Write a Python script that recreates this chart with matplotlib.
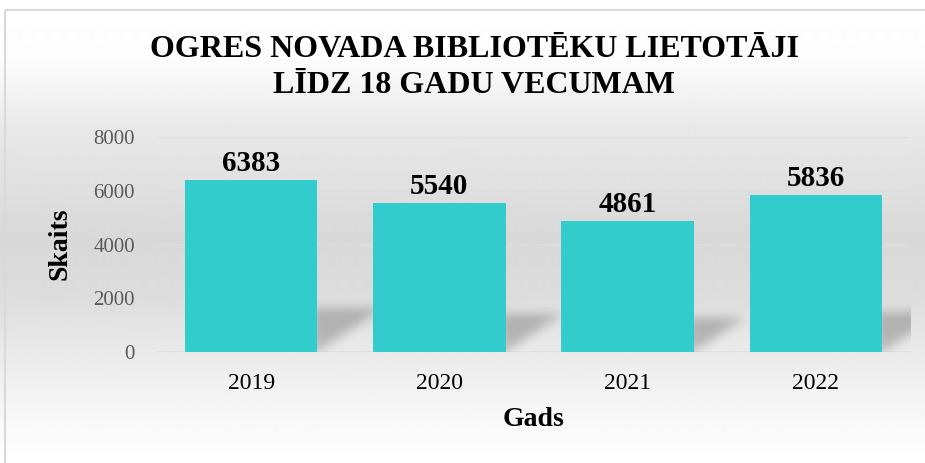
import numpy as np
import matplotlib
matplotlib.use("Agg")
import matplotlib.pyplot as plt

years = ['2019', '2020', '2021', '2022']
users = [6383, 5540, 4861, 5836]
y_ticks = [0, 2000, 4000, 6000, 8000]

title_lines = ['OGRES NOVADA BIBLIOTĒKU LIETOTĀJI', 'LĪDZ 18 GADU VECUMAM']
x_label = 'Gads'
y_label = 'Skaits'

W, Hfig = 925, 463
serif = 'Liberation Serif'
bar_color = '#33CCCC'
bar_w = 0.705

fig = plt.figure(figsize=(W / 100, Hfig / 100), dpi=100)

# background: vertical grey gradient with a thin border
bg = fig.add_axes([0, 0, 1, 1], zorder=-10)
bg.axis('off')
rows = np.arange(Hfig)
shade = np.interp(rows, [10, 60, 130, 240, 300, 352, 400, 460],
                  [255, 252, 232, 216, 221, 234, 244, 255]) / 255
bg.imshow(np.repeat(shade[:, None], 2, axis=1), cmap='gray', vmin=0, vmax=1,
          aspect='auto', extent=[0, 1, 0, 1], origin='upper', interpolation='bilinear')
bx, by = 5 / W, 1 - 10 / Hfig
bg.plot([bx, bx], [0, by], color='#d9d9d9', lw=1.5, solid_capstyle='butt')
bg.plot([bx, 1], [by, by], color='#d9d9d9', lw=1.5, solid_capstyle='butt')
bg.set_xlim(0, 1)
bg.set_ylim(0, 1)

# plot area
left, right, bottom, top = 157, 910, 352, 137
ax = fig.add_axes([left / W, 1 - bottom / Hfig, (right - left) / W, (bottom - top) / Hfig])
ax.set_facecolor('none')
x = np.arange(len(years))
ax.bar(x, users, width=bar_w, color=bar_color, zorder=3)

# soft perspective shadows behind the bars
px_x = (right - left) / len(years)
px_y = (bottom - top) / y_ticks[-1]


def blur(a, sigma):
    k = np.arange(-3 * sigma, 3 * sigma + 1)
    k = np.exp(-k ** 2 / (2 * sigma ** 2))
    k /= k.sum()
    a = np.apply_along_axis(lambda r: np.convolve(r, k, mode='same'), 1, a)
    a = np.apply_along_axis(lambda c: np.convolve(c, k, mode='same'), 0, a)
    return a


for xi, val in zip(x, users):
    hs = 0.255 * val * px_y
    sk = 1.5 * hs
    wpx = bar_w * px_x
    u = np.arange(-5, sk + 22, 1.0)
    v = np.arange(0, hs + 14, 1.0)
    U, V = np.meshgrid(u, v)
    m = ((V <= hs) & (U <= V / hs * sk) & (U >= V / hs * sk - wpx)).astype(float)
    a = blur(m, 5) * 0.22
    rgba = np.zeros(a.shape + (4,))
    rgba[..., 3] = a
    xr = xi + bar_w / 2
    ax.imshow(rgba, origin='lower', aspect='auto', interpolation='bilinear', zorder=2,
              extent=[xr + (u[0] - 0.5) / px_x, xr + (u[-1] + 0.5) / px_x,
                      0, (v[-1] + 0.5) / px_y])

for xi, val in zip(x, users):
    ax.annotate(f'{val}', (xi, val), xytext=(0, 6.5), textcoords='offset points',
                ha='center', va='baseline', fontsize=21, fontweight='bold',
                family=serif, color='black', zorder=5)

ax.set_xlim(-0.5, len(years) - 0.5)
ax.set_ylim(y_ticks[0], y_ticks[-1])
ax.set_xticks(x)
ax.set_xticklabels(years, family=serif, fontsize=17, color='black')
ax.set_yticks(y_ticks)
ax.set_yticklabels([str(t) for t in y_ticks], family=serif, fontsize=15, color='#595959')
ax.tick_params(axis='x', length=0, pad=15)
ax.tick_params(axis='y', length=0, pad=16)
ax.yaxis.grid(True, color='#dedede', lw=1.2, zorder=0)
ax.set_axisbelow(True)
for s in ax.spines.values():
    s.set_visible(False)

fig.text(533 / W, 1 - 419 / Hfig, x_label, ha='center', va='center',
         fontsize=20, fontweight='bold', family=serif)
fig.text(60 / W, 1 - 244 / Hfig, y_label, ha='center', va='center', rotation=90,
         fontsize=20, fontweight='bold', family=serif)

fig.text(474 / W, 1 - 57 / Hfig, title_lines[0], ha='center', va='baseline',
         fontsize=23, fontweight='bold', family=serif)
fig.text(474 / W, 1 - 93 / Hfig, title_lines[1], ha='center', va='baseline',
         fontsize=23, fontweight='bold', family=serif)

fig.savefig('out.png', dpi=100)
